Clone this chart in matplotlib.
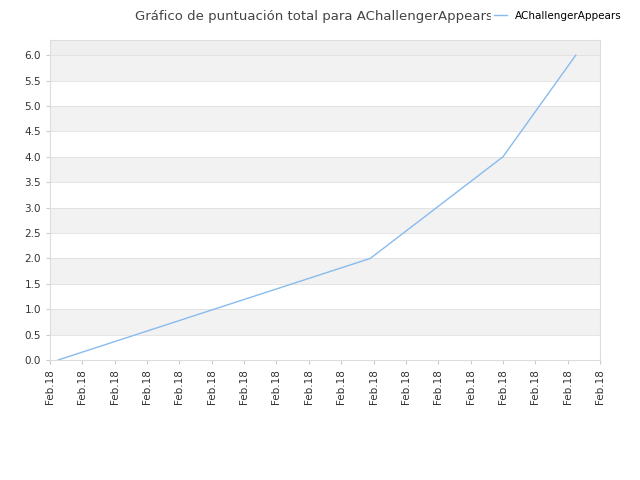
import matplotlib
matplotlib.use("Agg")
import matplotlib.pyplot as plt

x_vals = [0.25, 9.9, 14.0, 16.25]
y_vals = [0.0, 2.0, 4.0, 6.0]
xtick_labels = ["Feb.18"] * 18
series_name = "AChallengerAppears"
title = "Gráfico de puntuación total para AChallengerAppears"

fig = plt.figure(figsize=(6.4, 4.8), dpi=100)
ax = fig.add_axes([50/640, 120/480, 550/640, 320/480])
ymax = 6.3
ax.set_xlim(0, 17)
ax.set_ylim(0, ymax)
for i in range(13):
    lo = i * 0.5
    hi = min(lo + 0.5, ymax)
    if i % 2 == 1:
        ax.axhspan(lo, hi, color="#f2f2f2", zorder=0, lw=0)
ax.axhspan(6.0, ymax, color="#efefef", zorder=0, lw=0)
for i in range(13):
    ax.axhline(i * 0.5, color="#e0e0e0", lw=0.6, zorder=1)
ax.plot(x_vals, y_vals, color="#88bbee", lw=1, label=series_name, zorder=3)
ax.set_yticks([i * 0.5 for i in range(13)])
ax.set_yticklabels([f"{i*0.5:.1f}" for i in range(13)], fontsize=7.5, color="#333333")
ax.set_xticks(range(18))
ax.set_xticklabels(xtick_labels, rotation=90, fontsize=7.5, color="#333333")
for s in ax.spines.values():
    s.set_color("#dddddd")
ax.tick_params(length=3, color="#cccccc")
fig.text(0.49, 0.965, title, ha="center", va="center", fontsize=9.5, color="#444444")
leg = fig.legend(loc="upper right", bbox_to_anchor=(0.985, 0.995), frameon=True, fontsize=7.5,
                 handlelength=1.2, borderpad=0.3)
leg.get_frame().set_facecolor("white")
leg.get_frame().set_edgecolor("white")
leg.get_frame().set_alpha(1)
fig.savefig("out.png", dpi=100)
